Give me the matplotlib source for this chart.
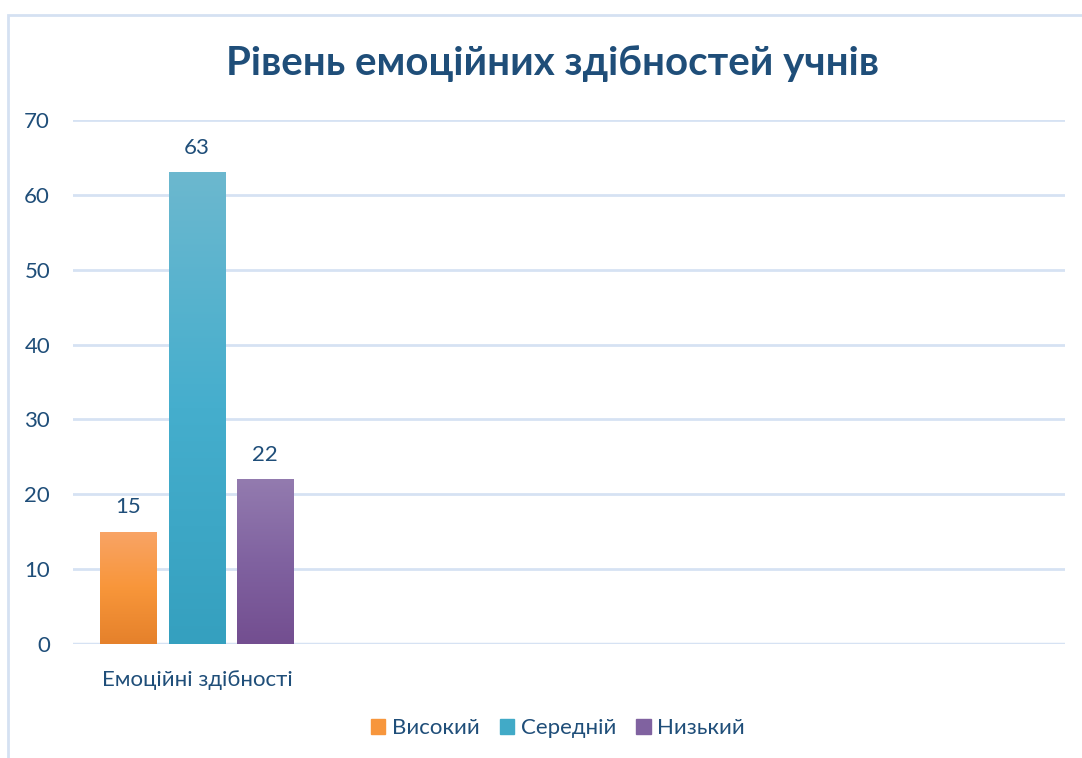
import matplotlib
matplotlib.use('Agg')
import matplotlib.pyplot as plt
import numpy as np
from matplotlib.colors import LinearSegmentedColormap
from matplotlib.patches import Rectangle

categories = ['Емоційні здібності', '', '', '']
series = ['Високий', 'Середній', 'Низький']
values = {
    'Високий': [15, None, None, None],
    'Середній': [63, None, None, None],
    'Низький': [22, None, None, None],
}
# bottom -> top gradient colours per series
grad = {
    'Високий': ['#E5812B', '#F8963A', '#F9A466'],
    'Середній': ['#35A0BF', '#45AECD', '#6CB8CF'],
    'Низький': ['#734E90', '#8062A0', '#937BAF'],
}
solid = {'Високий': '#F7963C', 'Середній': '#41AAC7', 'Низький': '#8062A0'}

plt.rcParams['font.family'] = ['Lato', 'DejaVu Sans']
text_col = '#1F4E79'
grid_col = '#D6E2F3'

fig = plt.figure(figsize=(10.82, 7.58), dpi=100)
W, H = 1082, 758
ax = fig.add_axes([73 / W, 1 - 644 / H, (1065 - 73) / W, (644 - 120) / H])

x = np.arange(len(categories))
width = 0.226
offsets = [-0.277, 0.0, 0.275]

for s, off in zip(series, offsets):
    cmap = LinearSegmentedColormap.from_list(s, grad[s])
    for xi, v in zip(x, values[s]):
        if v is None:
            continue
        bar = ax.bar(xi + off, v, width, color='none', zorder=3)[0]
        img = ax.imshow(np.linspace(0, 1, 256).reshape(-1, 1), cmap=cmap,
                        origin='lower', aspect='auto', zorder=3,
                        extent=[xi + off - width / 2, xi + off + width / 2, 0, v])
        img.set_clip_path(bar)
        ax.text(xi + off, v + 1.9, str(v), ha='center', va='bottom',
                fontsize=16, color=text_col)

ax.set_xlim(-0.5, len(categories) - 0.5)
ax.set_ylim(0, 70)
ax.set_yticks(np.arange(0, 71, 10))
ax.set_xticks(x)
ax.set_xticklabels(categories)
ax.tick_params(axis='both', length=0, labelsize=16, colors=text_col)
ax.tick_params(axis='x', pad=19)
ax.tick_params(axis='y', pad=16.5)
ax.grid(axis='y', color=grid_col, linewidth=2)
ax.set_axisbelow(True)
for sp in ax.spines.values():
    sp.set_visible(False)
ax.axhline(0, color=grid_col, linewidth=2.5, zorder=2)

fig.text(553 / W, 1 - 63 / H, 'Рівень емоційних здібностей учнів',
         ha='center', va='center', fontsize=29, fontweight='bold', color=text_col)

handles = [Rectangle((0, 0), 1, 1, color=solid[s]) for s in series]
fig.legend(handles, series, loc='center', bbox_to_anchor=(558 / W, 1 - 728 / H),
           ncol=3, frameon=False, fontsize=16, labelcolor=text_col,
           handlelength=0.65, handleheight=0.65, handletextpad=0.3, columnspacing=0.9)

# outer chart border (right and bottom edges fall outside the picture)
fig.patches.append(Rectangle((8 / W, -0.05), 1.1, 1 - 15 / H + 0.05,
                             transform=fig.transFigure, fill=False,
                             edgecolor='#D5E1F2', linewidth=2))

fig.savefig('out.png', dpi=100)
